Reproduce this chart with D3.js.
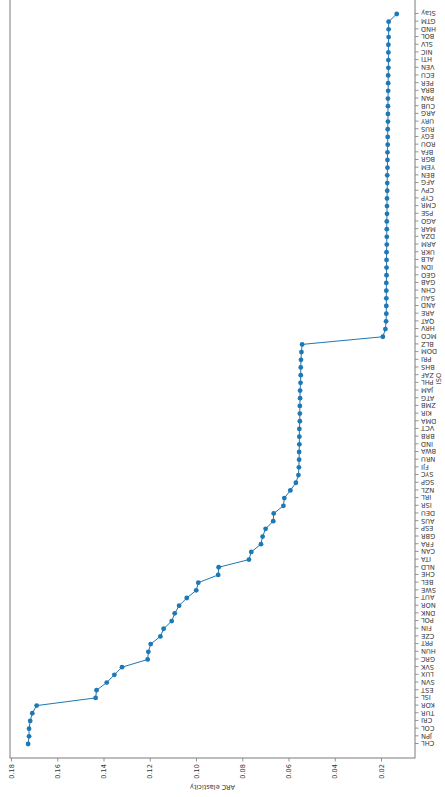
<!DOCTYPE html>
<html>
<head>
  <meta charset="utf-8">
  <title></title>
  <script src="https://cdn.jsdelivr.net/npm/d3@7"></script>
</head>
<style>
  body { margin: 0; background: #fff; }
  text { font-family: "DejaVu Sans", sans-serif; fill: #333; }
</style>
<body>
  <div id="chart"></div>
  <script>
    var isoCodes = ['CHL', 'JPN', 'COL', 'CRI', 'TUR', 'KOR', 'ISL', 'EST', 'SVN', 'LUX',
      'SVK', 'GRC', 'HUN', 'PRT', 'CZE', 'FIN', 'POL', 'DNK', 'NOR', 'AUT',
      'SWE', 'BEL', 'CHE', 'NLD', 'ITA', 'CAN', 'FRA', 'GBR', 'ESP', 'AUS',
      'DEU', 'ISR', 'IRL', 'NZL', 'SGP', 'SYC', 'FJI', 'NRU', 'BWA', 'IND',
      'BRB', 'VCT', 'DMA', 'KIR', 'ZMB', 'ATG', 'JAM', 'PHL', 'ZAF', 'BHS',
      'PRI', 'DOM', 'BLZ', 'MCO', 'HRV', 'QAT', 'ARE', 'AND', 'SAU', 'CHN',
      'GAB', 'GEO', 'IDN', 'ALB', 'UKR', 'ARM', 'DZA', 'MAR', 'AGO', 'PSE',
      'CMR', 'CYP', 'CPV', 'AFG', 'BEN', 'YEM', 'BGR', 'BFA', 'ROU', 'EGY',
      'RUS', 'URY', 'ARG', 'CUB', 'PAN', 'BRA', 'PER', 'ECU', 'VEN', 'HTI',
      'NIC', 'SLV', 'BOL', 'HND', 'GTM', 'Stay'];

    var arcElasticity = [0.1726, 0.1722, 0.1722, 0.1717, 0.1708, 0.1689, 0.1434, 0.1430, 0.1386, 0.1353,
      0.1320, 0.1209, 0.1206, 0.1196, 0.1154, 0.1140, 0.1105, 0.1092, 0.1073, 0.1040,
      0.0999, 0.0990, 0.0904, 0.0902, 0.0771, 0.0761, 0.0719, 0.0712, 0.0699, 0.0666,
      0.0664, 0.0622, 0.0618, 0.0592, 0.0568, 0.0557, 0.0555, 0.0554, 0.0554, 0.0553,
      0.0553, 0.0553, 0.0551, 0.0551, 0.0551, 0.0550, 0.0550, 0.0548, 0.0547, 0.0547,
      0.0546, 0.0544, 0.0541, 0.0192, 0.0181, 0.0178, 0.0177, 0.0177, 0.0177, 0.0177,
      0.0177, 0.0176, 0.0176, 0.0176, 0.0176, 0.0175, 0.0175, 0.0175, 0.0175, 0.0174,
      0.0174, 0.0174, 0.0173, 0.0173, 0.0173, 0.0172, 0.0172, 0.0172, 0.0171, 0.0171,
      0.0171, 0.0170, 0.0170, 0.0170, 0.0170, 0.0169, 0.0169, 0.0169, 0.0168, 0.0168,
      0.0168, 0.0168, 0.0167, 0.0167, 0.0167, 0.0132];

    var valueTicks = [0.18, 0.16, 0.14, 0.12, 0.10, 0.08, 0.06, 0.04, 0.02];

    var pageW = 445, pageH = 797;

    // the chart is laid out as a normal wide figure, then turned a quarter to the left
    var svg = d3.select('#chart').append('svg')
      .attr('width', pageW).attr('height', pageH);
    var g = svg.append('g')
      .attr('transform', 'translate(0,' + pageH + ') rotate(-90)');

    var plot = { left: 39, right: 798, top: 10, bottom: 415 };

    var x = d3.scaleLinear().domain([0, isoCodes.length - 1]).range([53, 783]);
    var y = d3.scaleLinear().domain([0.18, 0.02]).range([11, 381]);

    var fs = 6.6;

    // value axis (left in figure coords)
    var yAxis = d3.axisLeft(y).tickValues(valueTicks).tickSize(3.5).tickPadding(2.5)
      .tickFormat(d3.format('.2f'));
    var ya = g.append('g').attr('transform', 'translate(' + plot.left + ',0)').call(yAxis);
    ya.select('.domain').remove();
    ya.selectAll('line').attr('stroke', '#777').attr('stroke-width', 0.8);
    ya.selectAll('text').attr('font-size', fs).attr('fill', '#333')
      .style('font-family', '"DejaVu Sans", sans-serif');

    // category axis (bottom in figure coords)
    var xAxis = d3.axisBottom(x).tickValues(d3.range(isoCodes.length)).tickSize(3.5)
      .tickFormat(function (i) { return isoCodes[i]; });
    var xa = g.append('g').attr('transform', 'translate(0,' + plot.bottom + ')').call(xAxis);
    xa.select('.domain').remove();
    xa.selectAll('line').attr('stroke', '#777').attr('stroke-width', 0.8);
    xa.selectAll('text')
      .attr('font-size', fs).attr('fill', '#333')
      .style('font-family', '"DejaVu Sans", sans-serif')
      .attr('text-anchor', 'end')
      .attr('dy', '0.32em')
      .attr('transform', 'translate(0,6) rotate(-90)')
      .attr('x', 0).attr('y', 0);

    // frame
    g.append('rect')
      .attr('x', plot.left).attr('y', plot.top)
      .attr('width', plot.right - plot.left).attr('height', plot.bottom - plot.top)
      .attr('fill', 'none').attr('stroke', '#888').attr('stroke-width', 1.1);

    // line and markers
    var line = d3.line()
      .x(function (d, i) { return x(i); })
      .y(function (d) { return y(d); });

    g.append('path').datum(arcElasticity)
      .attr('d', line)
      .attr('fill', 'none').attr('stroke', '#1f77b4').attr('stroke-width', 1);

    g.selectAll('circle.pt').data(arcElasticity).enter().append('circle')
      .attr('class', 'pt')
      .attr('cx', function (d, i) { return x(i); })
      .attr('cy', function (d) { return y(d); })
      .attr('r', 2.4)
      .attr('fill', '#1f77b4');

    // axis titles
    g.append('text')
      .attr('transform', 'translate(10,' + ((plot.top + plot.bottom) / 2) + ') rotate(-90)')
      .attr('text-anchor', 'middle').attr('dy', '0.35em')
      .attr('font-size', fs).text('ARC elasticity');

    g.append('text')
      .attr('x', (plot.left + plot.right) / 2).attr('y', 441)
      .attr('text-anchor', 'middle')
      .attr('font-size', fs).text('ISO');
  </script>
</body>
</html>
